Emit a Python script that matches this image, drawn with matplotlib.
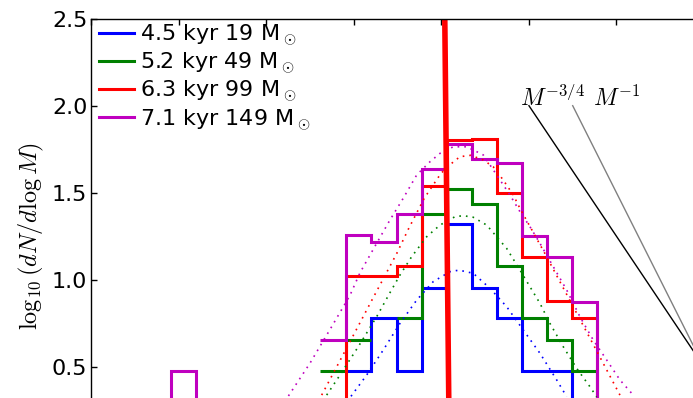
import numpy as np
import matplotlib
matplotlib.use("Agg")
import matplotlib.pyplot as plt

plt.rcParams['font.family'] = 'DejaVu Sans'
plt.rcParams['mathtext.fontset'] = 'cm'

nan = np.nan

# histogram bins in log M (shared by all snapshots)
bin_edges = [-1.678, -1.389, -1.095, -0.806, -0.512, -0.226, 0.059, 0.345,
             0.638, 0.923, 1.209, 1.497, 1.779, 2.068]

# log10(dN/dlogM) per bin, nan where the bin is empty
hist_45 = [nan, nan, 0.475, 0.778, 0.475, 0.954, 1.322, 0.954, 0.778, 0.475, 0.475, 0.0, nan]
hist_52 = [nan, 0.475, 0.653, nan, 0.778, 1.380, 1.519, 1.433, 1.080, 0.778, 0.653, 0.475, 0.0]
hist_63 = [nan, 0.0, 1.021, 1.021, 1.080, 1.539, 1.803, 1.809, 1.500, 1.132, 0.879, 0.778, 0.0]
hist_71 = [nan, 0.653, 1.257, 1.218, 1.378, 1.636, 1.778, 1.694, 1.669, 1.253, 1.129, 0.874, 0.0]

# isolated low-mass bin of the last snapshot
lone_edges = [-3.384, -3.095, -2.806, -2.517]
lone_71 = [0.0, 0.476, 0.0]

# fitted mass functions (dotted)
fit_45_x = [-1.034, -0.855, -0.665, -0.474, -0.283, -0.094, 0.097, 0.200,
            0.363, 0.554, 0.745, 0.935, 1.126, 1.317, 1.431]
fit_45_y = [0.330, 0.452, 0.596, 0.749, 0.883, 0.989, 1.046, 1.055,
            1.037, 0.951, 0.845, 0.711, 0.577, 0.424, 0.328]

fit_52_x = [-1.312, -1.160, -0.951, -0.741, -0.589, -0.474, -0.341, -0.169, -0.017,
            0.154, 0.249, 0.363, 0.517, 0.745, 0.897, 1.011, 1.126, 1.240,
            1.392, 1.545, 1.697, 1.774]
fit_52_y = [0.337, 0.452, 0.615, 0.787, 0.925, 1.027, 1.132, 1.247, 1.314,
            1.362, 1.368, 1.359, 1.314, 1.180, 1.056, 0.960, 0.864, 0.749,
            0.615, 0.491, 0.385, 0.327]

fit_63_x = [-1.369, -1.083, -0.798, -0.512, -0.379, -0.197, -0.006, 0.117, 0.211,
            0.335, 0.478, 0.592, 0.706, 0.821, 0.897, 1.183, 1.469, 1.754, 2.040]
fit_63_y = [0.337, 0.608, 0.880, 1.150, 1.290, 1.468, 1.611, 1.669, 1.707,
            1.715, 1.688, 1.649, 1.573, 1.487, 1.410, 1.150, 0.880, 0.610, 0.337]

fit_71_x = [-1.749, -1.503, -1.255, -1.046, -0.931, -0.741, -0.589, -0.437, -0.283,
            -0.131, -0.017, 0.135, 0.288, 0.402, 0.478, 0.631, 0.783, 0.897,
            1.011, 1.126, 1.278, 1.431, 1.583, 1.735, 1.888, 2.040, 2.192]
fit_71_y = [0.332, 0.520, 0.730, 0.910, 1.040, 1.209, 1.343, 1.468, 1.602,
            1.678, 1.726, 1.764, 1.764, 1.736, 1.717, 1.602, 1.487, 1.391,
            1.305, 1.209, 1.075, 0.941, 0.787, 0.653, 0.539, 0.424, 0.337]

labels = ['4.5 kyr 19 M$_\\odot$', '5.2 kyr 49 M$_\\odot$',
          '6.3 kyr 99 M$_\\odot$', '7.1 kyr 149 M$_\\odot$']
colors = ['b', 'g', 'r', 'm']

# reference power laws, both ending at the same point
slope_34_x = [1.0, 3.0]
slope_34_y = [2.0, 0.5]
slope_1_x = [1.5, 3.0]
slope_1_y = [2.0, 0.5]

# steep red line
steep_x = [0.036, 0.090]
steep_y = [2.6, 0.0]

fig = plt.figure(figsize=(6.93, 3.98), dpi=100)
ax = fig.add_axes([0.132, -0.140, 0.8838, 1.093])

hists = [hist_45, hist_52, hist_63, hist_71]
fits = [(fit_45_x, fit_45_y), (fit_52_x, fit_52_y),
        (fit_63_x, fit_63_y), (fit_71_x, fit_71_y)]
for h, (fx, fy), c, lab in zip(hists, fits, colors, labels):
    ax.stairs(h, bin_edges, baseline=None, color=c, lw=2.2, label=lab)
    ax.plot(fx, fy, color=c, lw=1.2, linestyle=(0, (1, 3)))
ax.stairs(lone_71, lone_edges, baseline=None, color='m', lw=2.2)

ax.plot(slope_34_x, slope_34_y, color='k', lw=1.0)
ax.plot(slope_1_x, slope_1_y, color='0.5', lw=1.0)
ax.text(0.90, 2.0, r'$M^{-3/4}$', fontsize=17, ha='left', va='baseline')
ax.text(1.73, 2.0, r'$M^{-1}$', fontsize=17, ha='left', va='baseline')

ax.plot(steep_x, steep_y, color='r', lw=4.0)

ax.set_xlim(-4, 3)
ax.set_ylim(0.0, 2.5)
ax.set_xticks(range(-4, 4))
ax.set_yticks([0.5, 1.0, 1.5, 2.0, 2.5])
ax.tick_params(direction='in', top=True, right=True, length=4, width=1,
               labelsize=16, pad=3, labelbottom=False)
for s in ax.spines.values():
    s.set_linewidth(1.0)
ax.set_ylabel(r'$\log_{10}(dN/d\log M)$', fontsize=17.5, labelpad=4)

ax.legend(loc='upper left', bbox_to_anchor=(0.0, 1.009), frameon=False,
          fontsize=16, handlelength=1.55, handletextpad=0.3, labelspacing=0.1,
          borderpad=0.1, borderaxespad=0.25)

fig.savefig('out.png', dpi=100)
